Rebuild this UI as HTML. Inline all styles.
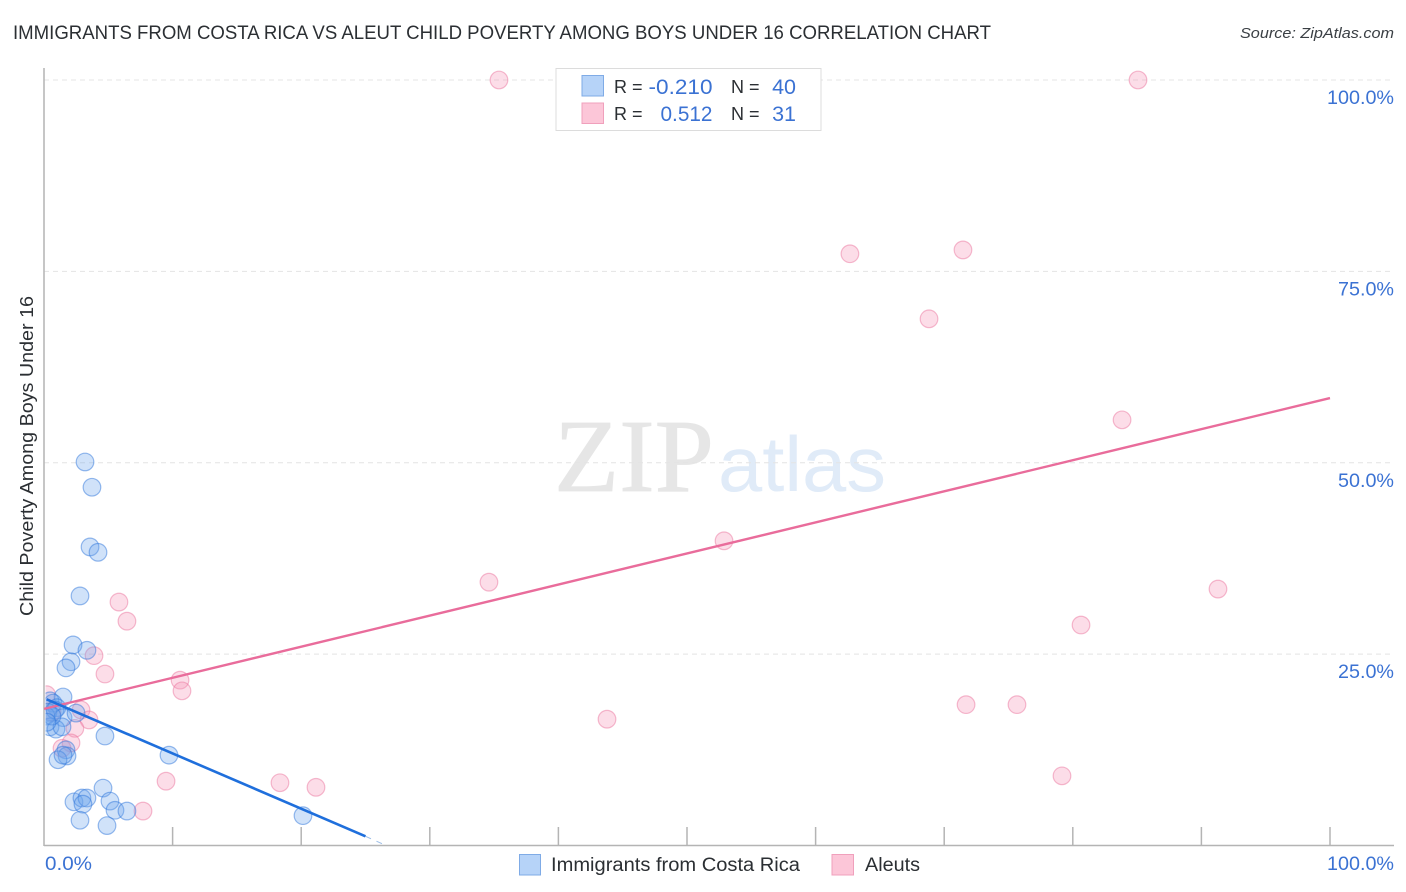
<!DOCTYPE html>
<html lang="en">
<head>
<meta charset="utf-8">
<title>Immigrants from Costa Rica vs Aleut Child Poverty Correlation Chart</title>
<style>
html,body{margin:0;padding:0;background:#fff;}
svg{display:block;font-family:"Liberation Sans",sans-serif;}
</style>
</head>
<body>
<svg id="chart" width="1406" height="892" viewBox="0 0 1406 892" xmlns="http://www.w3.org/2000/svg">
  <defs>
    <clipPath id="plot-clip"><rect x="45.5" y="60" width="1350" height="785"/></clipPath>
  </defs>
  <rect x="0" y="0" width="1406" height="892" fill="#ffffff"/>
  <text x="13" y="39" font-size="19.5" fill="#2b2f33" textLength="978" lengthAdjust="spacingAndGlyphs">IMMIGRANTS FROM COSTA RICA VS ALEUT CHILD POVERTY AMONG BOYS UNDER 16 CORRELATION CHART</text>
  <text x="1394" y="38" font-size="15" font-style="italic" fill="#3a3f44" text-anchor="end" textLength="154" lengthAdjust="spacingAndGlyphs">Source: ZipAtlas.com</text>

  <g>
    <text x="554" y="491" font-family="'Liberation Serif',serif" font-size="104" fill="#e6e6e6" stroke="#e6e6e6" stroke-width="0.8" textLength="160" lengthAdjust="spacingAndGlyphs">ZIP</text>
    <text x="718" y="491" font-size="78" fill="#e0ebf8" textLength="168" lengthAdjust="spacingAndGlyphs">atlas</text>
  </g>

  <g id="grid"></g>
  <g id="axes"></g>
  <g id="points" clip-path="url(#plot-clip)"></g>
  <g id="trends"></g>
  <g id="labels"></g>

  <text transform="translate(33,456) rotate(-90)" font-size="18.5" fill="#2b2f33" text-anchor="middle" textLength="320" lengthAdjust="spacingAndGlyphs">Child Poverty Among Boys Under 16</text>

  <g>
    <rect x="556" y="68.5" width="265" height="62" fill="#ffffff" stroke="#dcdcdc" stroke-width="1"/>
    <rect x="582" y="75.5" width="21.5" height="20.5" fill="#b6d3f8" stroke="#7fabe6" stroke-width="1"/>
    <rect x="582" y="103" width="21.5" height="20.5" fill="#fcc6d8" stroke="#f0a0bc" stroke-width="1"/>
    <text x="614" y="93" font-size="18" fill="#2b2f33">R =</text>
    <text x="712.5" y="94" font-size="21.5" fill="#3b72d3" text-anchor="end" textLength="64" lengthAdjust="spacingAndGlyphs">-0.210</text>
    <text x="731" y="93" font-size="18" fill="#2b2f33">N =</text>
    <text x="796" y="94" font-size="21.5" fill="#3b72d3" text-anchor="end">40</text>
    <text x="614" y="120" font-size="18" fill="#2b2f33">R =</text>
    <text x="712.5" y="121" font-size="21.5" fill="#3b72d3" text-anchor="end" textLength="52" lengthAdjust="spacingAndGlyphs">0.512</text>
    <text x="731" y="120" font-size="18" fill="#2b2f33">N =</text>
    <text x="796" y="121" font-size="21.5" fill="#3b72d3" text-anchor="end">31</text>
  </g>

  <g>
    <rect x="519.5" y="854.5" width="21" height="20.5" fill="#b6d3f8" stroke="#7fabe6" stroke-width="1"/>
    <text x="551" y="871" font-size="19" fill="#2b2f33" textLength="249" lengthAdjust="spacingAndGlyphs">Immigrants from Costa Rica</text>
    <rect x="832" y="854.5" width="21.5" height="20.5" fill="#fcc6d8" stroke="#f0a0bc" stroke-width="1"/>
    <text x="865" y="871" font-size="19" fill="#2b2f33" textLength="55" lengthAdjust="spacingAndGlyphs">Aleuts</text>
  </g>
</svg>
<script>
var blueX = [3.19,3.73,3.58,4.20,2.80,2.26,3.34,2.10,1.71,1.48,0.47,0.70,1.01,0.31,0.16,0.86,1.48,2.49,0.47,0.93,1.40,4.74,9.72,1.71,1.79,1.09,1.48,4.59,5.13,2.33,2.95,3.34,3.03,5.52,6.45,2.80,4.90,20.14,0.62,0.23];
var blueY = [50.1,46.8,39.0,38.3,32.6,26.2,25.5,24.0,23.2,19.4,18.9,18.6,18.0,17.4,16.9,17.7,16.7,17.3,15.5,15.2,15.5,14.3,11.8,12.5,11.7,11.2,11.8,7.5,5.8,5.7,6.2,6.2,5.4,4.6,4.5,3.3,2.6,3.9,16.9,16.1];
var pinkX = [35.38,85.07,62.67,71.46,68.82,83.83,52.88,34.60,91.29,5.83,6.45,80.64,3.89,4.74,10.58,10.73,71.70,75.66,43.78,0.20,2.88,3.50,2.40,2.10,1.40,9.49,18.35,21.15,79.16,7.70,0.62];
var pinkY = [100,100,77.3,77.8,68.8,55.6,39.8,34.4,33.5,31.8,29.3,28.8,24.8,22.4,21.6,20.2,18.4,18.4,16.5,19.7,17.7,16.4,15.3,13.4,12.7,8.4,8.2,7.6,9.1,4.5,17.4];
var pinkTrendX = [0,100];
var pinkTrendY = [17.85,58.45];
var blueTrendX = [0.2,25];
var blueTrendY = [19.1,1.2];
var blueTrendDashX = [25,26.6];
var blueTrendDashY = [1.2,0];
var yGridValues = [25,50,75,100];
var yTickLabels = ["25.0%","50.0%","75.0%","100.0%"];
var xTickValues = [10,20,30,40,50,60,70,80,90,100];
var xEdgeValues = [0,100];
var xEdgeLabels = ["0.0%","100.0%"];

var NS = 'http://www.w3.org/2000/svg';
function xScale(v){ return 44 + v * 12.86; }
function yScale(v){ return 845.5 - v * 7.655; }
function make(tag, attrs, parent){
  var el = document.createElementNS(NS, tag);
  for (var k in attrs) el.setAttribute(k, attrs[k]);
  parent.appendChild(el);
  return el;
}
var grid = document.getElementById('grid');
var axes = document.getElementById('axes');
var pts = document.getElementById('points');
var trends = document.getElementById('trends');
var labels = document.getElementById('labels');

yGridValues.forEach(function(v){
  var line = make('line', {x1:44, x2:1394, y1:yScale(v), y2:yScale(v), stroke:'#e4e4e4', 'stroke-width':1, 'stroke-dasharray':'5 4'}, grid);
  
  
});

var yAxis = make('line', {x1:44, x2:44, y1:68, y2:846, stroke:'#b4b4b4', 'stroke-width':1.5}, axes);


var xAxis = make('line', {x1:44, x2:1394, y1:845.5, y2:845.5, stroke:'#b4b4b4', 'stroke-width':1.5}, axes);


xTickValues.forEach(function(v){
  var tick = make('line', {x1:xScale(v), x2:xScale(v), y1:827, y2:845.5, stroke:'#b4b4b4', 'stroke-width':1.5}, axes);
  
  
});

pinkX.forEach(function(v, i){
  var c = make('circle', {cx:xScale(v), cy:yScale(pinkY[i]), r:8.8, fill:'rgba(247,150,182,0.32)', stroke:'rgba(236,120,160,0.5)', 'stroke-width':1.2}, pts);
  
  
});
blueX.forEach(function(v, i){
  var c = make('circle', {cx:xScale(v), cy:yScale(blueY[i]), r:8.8, fill:'rgba(110,165,235,0.32)', stroke:'rgba(50,120,220,0.5)', 'stroke-width':1.2}, pts);
  
  
});

var pinkLine = make('line', {x1:xScale(pinkTrendX[0]), y1:yScale(pinkTrendY[0]), x2:xScale(pinkTrendX[1]), y2:yScale(pinkTrendY[1]), stroke:'#e96c9b', 'stroke-width':2.4}, trends);


var blueLine = make('line', {x1:xScale(blueTrendX[0]), y1:yScale(blueTrendY[0]), x2:xScale(blueTrendX[1]), y2:yScale(blueTrendY[1]), stroke:'#1f6fdc', 'stroke-width':2.6}, trends);


var blueDash = make('line', {x1:xScale(blueTrendDashX[0]), y1:yScale(blueTrendDashY[0]), x2:xScale(blueTrendDashX[1]), y2:yScale(blueTrendDashY[1]), stroke:'#9dbfe8', 'stroke-width':1, 'stroke-dasharray':'6 6'}, trends);



yGridValues.forEach(function(v, i){
  var t = make('text', {x:1394, y:yScale(v) + 24, 'font-size':19.5, fill:'#3b72d3', 'text-anchor':'end', textLength: v === 100 ? 67 : 56, lengthAdjust:'spacingAndGlyphs'}, labels);
  
  
  t.textContent = yTickLabels[i];
});
xEdgeValues.forEach(function(v, i){
  var t = make('text', {x: i === 0 ? xScale(v) + 1 : 1394, y:870, 'font-size':19.5, fill:'#3b72d3', 'text-anchor': i === 0 ? 'start' : 'end', textLength: i === 0 ? 47 : 67, lengthAdjust:'spacingAndGlyphs'}, labels);
  
  
  t.textContent = xEdgeLabels[i];
});
</script>
</body>
</html>
